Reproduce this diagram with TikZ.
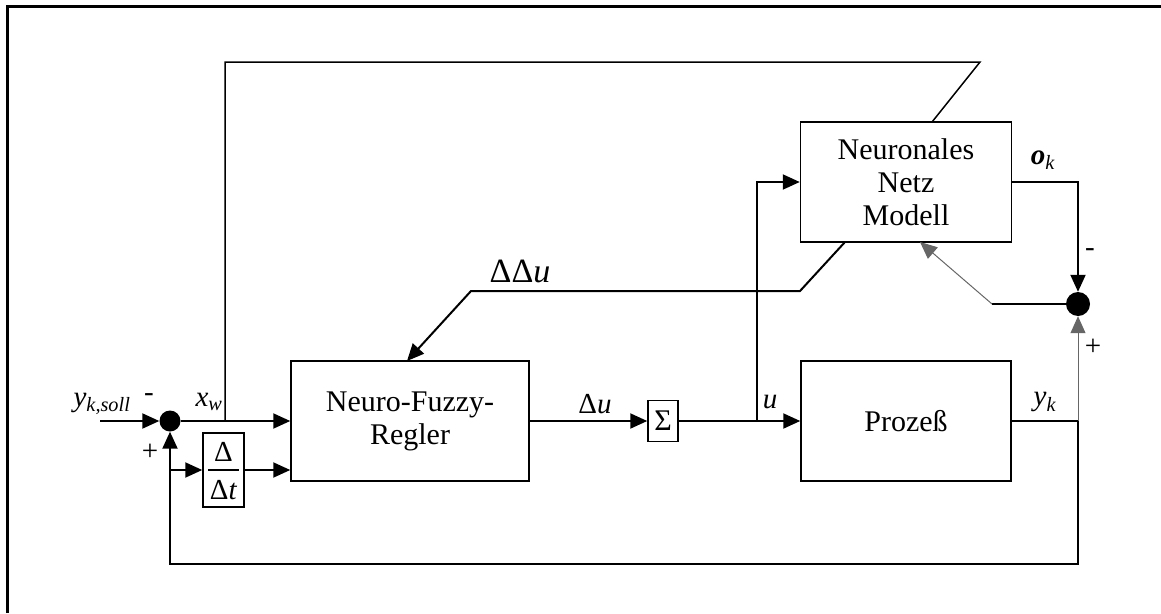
\documentclass[tikz,border=0pt]{standalone}
\usepackage{fontspec}
\setmainfont{Liberation Serif}
\usetikzlibrary{arrows.meta,calc}
\begin{document}
\begin{tikzpicture}[x=1pt,y=-1pt,
  blk/.style={draw,line width=1.5pt,minimum width=#1,inner sep=0pt,align=center,
     font=\fontsize{30}{33}\selectfont},
  sig/.style={line width=2pt},
  thin/.style={line width=1pt,draw=black!60},
  arr/.style={-{Triangle[length=17pt,width=15pt]}},
  lbl/.style={inner sep=0pt,font=\fontsize{29}{32}\selectfont},
  junc/.style={circle,fill=black,inner sep=0pt,minimum size=#1}]
\useasboundingbox (0,0) rectangle (1161,613);
% frame
\draw[line width=3pt] (7,613) -- (7,6) -- (1161,6);
% blocks
\node[blk=238pt,minimum height=120pt] (nfr) at (410,421) {Neuro-Fuzzy-\\Regler};
\node[blk=211pt,minimum height=120pt] (nn) at (906,182) {Neuronales\\Netz\\Modell};
\node[blk=210pt,minimum height=120pt] (proc) at (906,421) {Prozeß};
\node[blk=30pt,minimum height=41pt] (sum) at (663,421) {Σ};
\node[blk=41pt,minimum height=74pt] (dt) at (223.5,470) {};
\node[lbl] (dtn) at (223.5,452) {Δ};
\node[lbl] (dtd) at (223.5,490) {Δ\textit{t}};
\draw[line width=1.5pt] ($(dt.west)+(6,0)$) coordinate (dl) -- ($(dt.east)+(-6,0)$) coordinate (dr);
% junctions
\node[junc=21pt] (s1) at (170,421) {};
\node[junc=24pt] (s2) at (1078,304) {};
% coordinates
\coordinate (in) at (100,421);
\coordinate (bxw) at (225,421);
\coordinate (tl) at (225,62);
\coordinate (tr) at (980,62);
\coordinate (ntop) at (932,122);
\coordinate (bu) at (757,421);
\coordinate (bu2) at (757,182);
\coordinate (ok1) at (1078,182);
\coordinate (yk1) at (1078,421);
\coordinate (yk2) at (1078,564);
\coordinate (yk3) at (170,564);
\coordinate (fbd) at (170,470);
\coordinate (e1) at (992,304);
\coordinate (nbot) at (920,242);
\coordinate (d0) at (845,242);
\coordinate (d1) at (800,291);
\coordinate (d2) at (471,291);
\coordinate (d3) at (407,361);
% connectors
\draw[sig,arr] (in) -- (s1.west);
\draw[sig,arr] (s1.east) -- (nfr.west);
\draw[line width=1.5pt] (bxw) -- (tl) -- (tr) -- (ntop);
\draw[sig,arr] (fbd) -- (dt.west);
\draw[sig,arr] (dt.east) -- (nfr.west |- dt.east);
\draw[sig,arr] (nfr.east) -- (sum.west);
\draw[sig,arr] (sum.east) -- (proc.west);
\draw[sig,arr] (bu) -- (bu2) -- (nn.west);
\draw[sig,arr] (nn.east |- ok1) -- (ok1) -- (s2.north);
\draw[sig] (proc.east) -- (yk1) -- (yk2) -- (yk3) -- (fbd);
\draw[sig,arr] (fbd) -- (s1.south);
\draw[thin,arr] (yk1) -- (s2.south);
\draw[line width=1.5pt] (s2.west) -- (e1);
\draw[thin,arr] (e1) -- (nbot);
\draw[sig,arr] (d0) -- (d1) -- (d2) -- (d3);
% labels
\node[lbl] (lysoll) at (102,404) {\textit{y}\textsubscript{\textit{k,soll}}};
\node[lbl] (lm1) at (149,398) {-};
\node[lbl] (lp1) at (150,452) {+};
\node[lbl] (lxw) at (209,402) {\textit{x}\textsubscript{\textit{w}}};
\node[lbl] (ldu) at (595,404) {Δ\textit{u}};
\node[lbl] (lu) at (770,402) {\textit{u}};
\node[lbl] (lyk) at (1045,402) {\textit{y}\textsubscript{\textit{k}}};
\node[lbl] (lok) at (1043,160) {\textbf{\textit{o}}\textsubscript{\textit{k}}};
\node[lbl] (lm2) at (1090,253) {-};
\node[lbl] (lp2) at (1093,347) {+};
\node[inner sep=0pt,font=\fontsize{34}{38}\selectfont] (lddu) at (520,271) {ΔΔ\textit{u}};
\end{tikzpicture}
\end{document}
